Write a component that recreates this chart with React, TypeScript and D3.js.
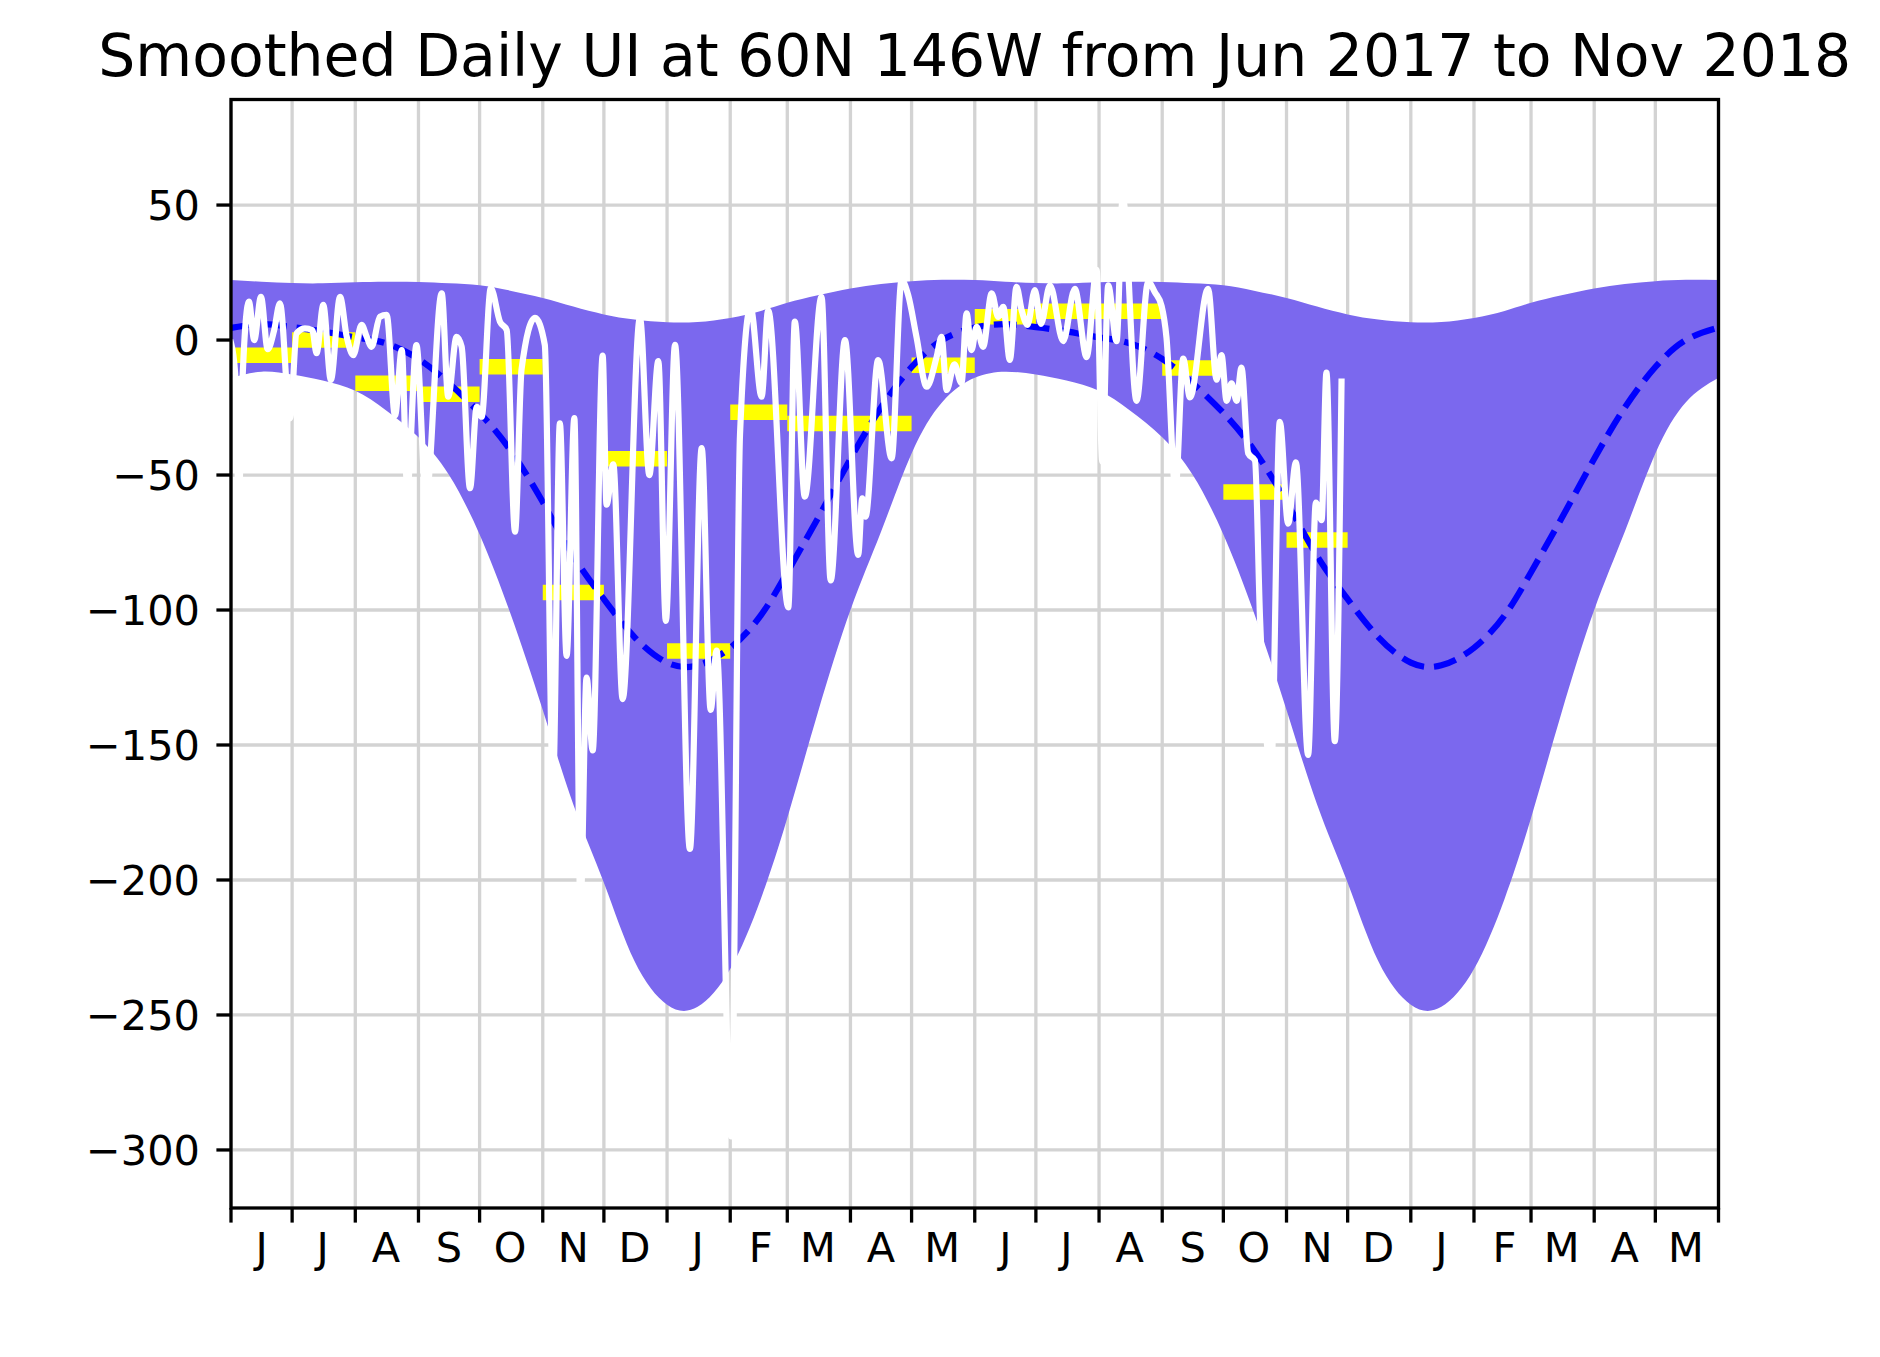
import React from "react";
import * as d3 from "d3";

const startDate = "2017-06-01";
const endDate = "2019-06-01";

const yTicks = [50, 0, -50, -100, -150, -200, -250, -300];
const monthLetters = [
  "J", "J", "A", "S", "O", "N", "D", "J", "F", "M", "A", "M",
  "J", "J", "A", "S", "O", "N", "D", "J", "F", "M", "A", "M",
];

// climatology for one Jun -> Jun cycle (drawn again for the following year)
const climDates = [
  "2017-06-01", "2017-06-16", "2017-07-01", "2017-07-16", "2017-08-01", "2017-08-16",
  "2017-09-01", "2017-09-16", "2017-10-01", "2017-10-16", "2017-11-01", "2017-11-16",
  "2017-12-01", "2017-12-16", "2018-01-01", "2018-01-16", "2018-02-01",
  "2018-02-16", "2018-03-01", "2018-03-16", "2018-04-01", "2018-04-16", "2018-05-01",
  "2018-05-16", "2018-06-01",
];
const climUpper = [
  22.2, 21.6, 21.1, 21.0, 21.4, 21.6, 21.5, 21.0, 20.3, 18.3, 15.6, 12.4, 9.5,
  7.6, 6.6, 6.7, 8.2, 10.8, 13.8, 16.6, 19.1, 20.8, 21.8, 22.3, 22.2,
];
const climMean = [
  4.5, 5.9, 4.8, 3.2, 1.0, -1.2, -7, -16, -27, -40.7, -60, -80, -96,
  -110, -119.5, -120.5, -114, -102, -86, -66, -44, -25, -10, 0, 4.6,
];
const climLower = [
  -14, -11.7, -12.8, -15, -18.8, -26, -36, -50, -72, -101, -137, -172, -201,
  -230, -246.2, -247, -233, -207, -177, -138, -100, -71, -42, -23, -14,
];

// monthly means
const meanMonths = [
  "2017-06", "2017-07", "2017-08", "2017-09", "2017-10", "2017-11", "2017-12", "2018-01", "2018-02",
  "2018-03", "2018-04", "2018-05", "2018-06", "2018-07", "2018-08", "2018-09", "2018-10", "2018-11",
];
const meanValues = [
  -5.6, 0, -16, -20.1, -9.9, -93.5, -44, -115.2, -26.7,
  -30.9, -30.9, -9.3, 8.6, 10.7, 10.7, -10.4, -56.3, -74.1,
];

// smoothed daily UI, days after 2017-06-01
const uiDay = [
  0, 2, 3.8, 5.8, 8.8, 11.4, 14.7, 18, 21.2, 24, 29, 32.2, 36.3, 39.9, 42, 45.3, 49, 53.5,
  56.8, 60, 64.1, 66.6, 69, 73.1, 76.4, 80.5, 83.8, 86.5, 91, 95.7, 103.4, 106.6, 110.7,
  113.2, 117.3, 120.6, 123, 127.5, 132, 135.3, 139.4, 142.6, 149.2, 154, 158, 161.4, 164.7,
  168.5, 171.5, 174.5, 177.5, 182.4, 184.3, 187.6, 192.2, 200.7, 205.3, 209.7, 213.4, 217.9,
  225.2, 231, 235.4, 238.3, 245.5, 249.8, 255, 260.4, 263.6, 273.5, 276.7, 281.6, 289.8,
  294.3, 301.3, 307.8, 309.8, 311.4, 317.6, 324.2, 329.1, 332.3, 336.4, 341.4, 346.3, 348.7,
  351.2, 355, 358.5, 361, 363.4, 365.9, 369.1, 373.3, 376.5, 379, 382.2, 385.5, 388, 390.9,
  394.5, 397.5, 401.9, 408.4, 414.1, 419.9, 424.8, 427.6, 430.5, 434.6, 437.6, 444.4, 450.1,
  453.4, 456.7, 459.1, 463.5, 467.3, 470.6, 479.5, 483.7, 486.1, 488.6, 491, 493.5, 495.9,
  499.2, 502.5, 505, 510.5, 514.7, 518.8, 522.6, 528.6, 532.4, 535.2, 537.6, 541.7, 545,
];
const uiValue = [
  -1, -12, -58, -12, 14.2, 0, 16, -3.4, 3.7, 13.6, -29, 2.5, 4.3, 3.7, -4.9, 13, -14.8, 16,
  1.2, -5.6, 5.6, 1.2, -2.5, 8.6, 9.3, -28, -3.7, -55, -1.9, -58, 17.3, -21, 1.2,
  -2.5, -54.9, -24.7, -28.4, 19.2, 6.8, 3.7, -71, -10.8, 8.2, -1.8, -165, -30.9, -117,
  -28.9, -210, -125, -152, -5.8, -61, -46, -133, 8.2, -50, -7.8, -104, -1.8,
  -188.5, -40, -137, -115, -295, -35, 12, -21, 11, -99, 6.8, -58, 16,
  -89, 0, -79.6, -58.6, -65.4, -7.4, -43.8, 22.2, 16.7, 1.2, -17.3, -6.2, 1.2,
  -18.5, -9, -16, 9.9, -3.7, 4.9, -2.5, 17.3, 8.6, 12.3, -7.4, 19.7, 11.1, 5.6,
  18.5, 6, 20.3, -0.4, 19, -6.3, 26, -45, 20.3, -0.4, 53, -22.5, 21.6,
  17.7, 12.6, 0.9, -55, -6.9, -21.2, 19, -14.7, -5.6, -22.5, -16, -22.5, -10.2,
  -42, -44.6, -103, -158, -30.3, -68, -45.3, -153.7, -60.2, -66.7, -12.1, -148.6, -15.4,
];

const W = 1880;
const H = 1357;
const FONT = "DejaVu Sans";

export default function App() {
  const parseDay = d3.utcParse("%Y-%m-%d");
  const parseMonth = d3.utcParse("%Y-%m");
  const t0 = parseDay(startDate)!;
  const t1 = parseDay(endDate)!;

  const x = d3.scaleUtc().domain([t0, t1]).range([231, 1718.5]);
  const y = d3.scaleLinear().domain([-321.5, 89.1]).range([1208, 99.5]);
  const [left, right] = x.range();
  const [bottom, top] = y.range();

  // climatology over both years
  type Clim = { date: Date; upper: number; mean: number; lower: number };
  const clim: Clim[] = [];
  [0, 1].forEach((yr) => {
    climDates.forEach((s, i) => {
      if (yr === 1 && i === 0) return;
      clim.push({
        date: d3.utcYear.offset(parseDay(s)!, yr),
        upper: climUpper[i],
        mean: climMean[i],
        lower: climLower[i],
      });
    });
  });

  const band = d3
    .area<Clim>()
    .x((d) => x(d.date))
    .y0((d) => y(d.lower))
    .y1((d) => y(d.upper))
    .curve(d3.curveNatural);
  const meanLine = d3
    .line<Clim>()
    .x((d) => x(d.date))
    .y((d) => y(d.mean))
    .curve(d3.curveNatural);

  const ui = uiDay.map((d, i) => ({ date: new Date(t0.getTime() + d * 864e5), value: uiValue[i] }));
  const uiLine = d3
    .line<{ date: Date; value: number }>()
    .x((d) => x(d.date))
    .y((d) => y(d.value))
    .curve(d3.curveMonotoneX);

  const monthEdges = d3.utcMonth.range(t0, d3.utcDay.offset(t1, 1));
  const labelDates = d3.utcMonth.range(t0, t1).map((m) => d3.utcDay.offset(m, 15));

  const fmt = (v: number) => (v < 0 ? "\u2212" + Math.abs(v) : String(v));

  return (
    <svg
      width={W}
      height={H}
      viewBox={`0 0 ${W} ${H}`}
      style={{ position: "absolute", left: 0, top: 0, background: "#fff" }}
      fontFamily={FONT}
    >
      <rect width={W} height={H} fill="#fff" />

      {/* grid */}
      <g stroke="#d3d3d3" strokeWidth={3.3}>
        {monthEdges.map((m, i) => (
          <line key={"gx" + i} x1={x(m)} x2={x(m)} y1={top} y2={bottom} />
        ))}
        {yTicks.map((v) => (
          <line key={"gy" + v} x1={left} x2={right} y1={y(v)} y2={y(v)} />
        ))}
      </g>

      <path d={band(clim) ?? ""} fill="#7B68EE" stroke="none" />

      {/* monthly means */}
      <g stroke="#ffff00" strokeWidth={15.5}>
        {meanMonths.map((s, i) => {
          const m = parseMonth(s)!;
          return (
            <line
              key={s}
              x1={x(m)}
              x2={x(d3.utcMonth.offset(m, 1))}
              y1={y(meanValues[i])}
              y2={y(meanValues[i])}
            />
          );
        })}
      </g>

      <path
        d={meanLine(clim) ?? ""}
        fill="none"
        stroke="#0000ff"
        strokeWidth={6.2}
        strokeDasharray="23 10"
      />

      <path
        d={uiLine(ui) ?? ""}
        fill="none"
        stroke="#ffffff"
        strokeWidth={6.2}
        strokeLinejoin="round"
        strokeLinecap="square"
      />

      {/* frame */}
      <rect
        x={left}
        y={top}
        width={right - left}
        height={bottom - top}
        fill="none"
        stroke="#000"
        strokeWidth={3.3}
      />

      {/* y axis */}
      <g>
        {yTicks.map((v) => (
          <g key={"yt" + v}>
            <line x1={left - 14.6} x2={left} y1={y(v)} y2={y(v)} stroke="#000" strokeWidth={3.3} />
            <text x={left - 31} y={y(v)} dy="0.36em" textAnchor="end" fontSize={41.5} fill="#000">
              {fmt(v)}
            </text>
          </g>
        ))}
      </g>

      {/* x axis */}
      <g>
        {monthEdges.map((m, i) => (
          <line
            key={"xt" + i}
            x1={x(m)}
            x2={x(m)}
            y1={bottom}
            y2={bottom + 14.6}
            stroke="#000"
            strokeWidth={3.3}
          />
        ))}
        {labelDates.map((d, i) => (
          <text key={"xl" + i} x={x(d)} y={1262} textAnchor="middle" fontSize={41.5} fill="#000">
            {monthLetters[i]}
          </text>
        ))}
      </g>

      <text x={(left + right) / 2} y={76} textAnchor="middle" fontSize={58.4} fill="#000">
        Smoothed Daily UI at 60N 146W from Jun 2017 to Nov 2018
      </text>
    </svg>
  );
}
